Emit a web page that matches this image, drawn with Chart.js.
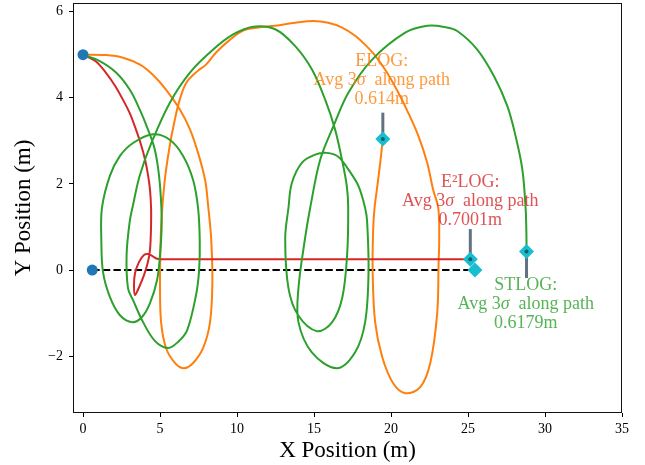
<!DOCTYPE html>
<html>
<head>
<meta charset="utf-8">
<script src="https://cdn.jsdelivr.net/npm/chart.js@4.4.0/dist/chart.umd.min.js"></script>
<style>
    html, body { margin: 0; padding: 0; background: #fff; }
</style>
</head>
<body>
<canvas id="pathChart" width="645" height="465"></canvas>
<script>
document.addEventListener("DOMContentLoaded", function () {

    const SERIF = '"Liberation Serif", "Times New Roman", serif';

    // axis ticks
    const xTicks = [0, 5, 10, 15, 20, 25, 30, 35];
    const yTicks = [-2, 0, 2, 4, 6];

    // start points and ground truth
    const startX = [0, 0.6];
    const startY = [5, 0];
    const gtX = [0.6, 25.45];
    const gtY = [0, 0];

    // ELOG path (orange)
    const elogX = [0, 1.49, 2.60, 3.70, 4.55, 5.39, 6.30, 6.95, 7.47, 7.93, 8.12, 8.32, 8.40, 8.25, 7.80,
        7.15, 6.56, 5.98, 5.39, 5.07, 5.00, 5.02, 5.09, 5.31, 5.63, 5.96, 6.28, 6.71, 7.47, 7.99,
        8.64, 9.55, 10.40, 11.37, 12.48, 13.78, 14.94, 15.92, 16.83, 17.67, 18.32, 18.97, 19.75, 20.47, 21.12,
        21.77, 22.35, 22.74, 23.07, 23.13, 23.09, 23.00, 22.55, 21.90, 20.92, 20.14, 19.43, 18.97, 18.81, 18.84,
        18.93, 19.08, 19.30, 19.47];
    const elogY = [5.00, 4.99, 4.93, 4.77, 4.53, 4.19, 3.72, 3.26, 2.72, 2.09, 1.51, 0.74, -0.28, -1.21, -1.81,
        -2.16, -2.28, -2.16, -1.81, -1.21, -0.42, 0.35, 1.12, 2.09, 2.88, 3.49, 3.95, 4.35, 4.63, 4.77,
        5.05, 5.35, 5.56, 5.63, 5.67, 5.74, 5.78, 5.74, 5.63, 5.44, 5.23, 4.98, 4.58, 4.12, 3.65,
        3.12, 2.49, 1.86, 1.44, 0.70, 0.16, -1.00, -2.16, -2.72, -2.86, -2.63, -2.02, -1.21, -0.05, 0.93,
        1.44, 1.86, 2.49, 3.04];

    // E²LOG path (red)
    const e2logX = [0, 0.84, 1.49, 2.08, 2.60, 3.05, 3.44, 3.77, 4.03, 4.22, 4.35, 4.42, 4.42, 4.39,
        4.35, 4.22, 3.96, 3.64, 3.38, 3.31, 3.38, 3.64, 3.96, 4.22, 4.48, 4.81, 5.13, 25.15];
    const e2logY = [5.00, 4.84, 4.58, 4.28, 3.95, 3.63, 3.26, 2.91, 2.56, 2.21, 1.86, 1.44, 1.05, 0.70,
        0.47, 0.19, -0.12, -0.40, -0.58, -0.35, -0.07, 0.19, 0.35, 0.37, 0.33, 0.26, 0.25, 0.25];

    // STLOG path (green)
    const stlogX = [0, 1.09, 2.16, 3.03, 3.68, 4.22, 4.66, 4.94, 5.09, 5.10, 5.00, 4.81, 4.35, 3.83, 3.20,
        2.40, 1.75, 1.30, 1.19, 1.23, 1.75, 2.40, 3.25, 4.55, 5.65, 6.50, 7.15, 7.47, 7.58, 7.54,
        7.34, 6.76, 6.17, 5.52, 4.68, 3.90, 3.25, 2.92, 2.83, 3.03, 3.25, 3.68, 4.44, 5.63, 6.93,
        8.45, 9.75, 11.05, 12.48, 13.78, 14.86, 15.72, 16.37, 16.81, 17.13, 17.22, 17.15, 16.83, 16.18, 15.20,
        13.97, 13.34, 13.13, 13.34, 13.56, 14.21, 15.07, 15.84, 16.57, 17.24, 17.89, 18.32, 18.45, 18.54, 18.32,
        17.67, 16.48, 14.86, 13.99, 13.99, 14.42, 14.75, 15.40, 16.26, 17.24, 18.76, 20.92, 22.35, 23.52, 24.30,
        25.60, 26.69, 27.55, 28.09, 28.53, 28.74, 28.79, 28.80];
    const stlogY = [5.00, 4.85, 4.58, 4.19, 3.73, 3.26, 2.80, 2.18, 1.44, 0.93, 0.35, -0.23, -0.77, -1.09, -1.21,
        -1.05, -0.63, -0.05, 0.70, 1.44, 2.19, 2.65, 2.95, 3.15, 3.02, 2.65, 2.09, 1.44, 0.70, 0.00,
        -0.58, -1.40, -1.67, -1.81, -1.65, -1.21, -0.70, -0.42, 0.35, 1.12, 1.51, 2.19, 2.95, 3.88, 4.58,
        5.12, 5.47, 5.65, 5.59, 5.20, 4.66, 3.96, 3.26, 2.57, 1.95, 1.44, 0.35, -0.65, -1.21, -1.42,
        -1.05, -0.42, 0.74, 1.44, 2.02, 2.49, 2.68, 2.72, 2.63, 2.33, 1.95, 1.44, 1.12, -0.05, -1.21,
        -1.91, -2.28, -1.91, -1.21, -0.42, 0.74, 1.44, 2.56, 3.34, 4.12, 4.88, 5.51, 5.67, 5.64, 5.55,
        5.12, 4.50, 3.81, 3.11, 2.33, 1.44, 0.90, 0.43];

    // end-of-path 3σ values
    const methodNames = ["ELOG", "E²LOG", "STLOG"];
    const sigmaValues = [0.614, 0.7001, 0.6179];
    const barDirection = [1, 1, -1];

    const colors = {
        elog: "#ff7f0e",
        e2log: "#d62728",
        stlog: "#2ca02c",
        start: "#1f77b4",
        end: "#17becf",
        bar: "#627282"
    };

    function toPoints(xs, ys) {
        return xs.map((x, i) => ({ x: x, y: ys[i] }));
    }

    const ends = [
        { x: elogX[elogX.length - 1], y: elogY[elogY.length - 1] },
        { x: e2logX[e2logX.length - 1], y: e2logY[e2logY.length - 1] },
        { x: stlogX[stlogX.length - 1], y: stlogY[stlogY.length - 1] }
    ];

    const barSets = ends.map((p, i) => ({
        data: [p, { x: p.x, y: p.y + barDirection[i] * sigmaValues[i] }],
        showLine: true,
        borderColor: colors.bar,
        borderWidth: 3,
        pointRadius: 0
    }));

    // text annotations, anchored in data coordinates (middle line)
    const labelColors = ["rgba(255,127,14,0.8)", "rgba(214,39,40,0.8)", "rgba(44,160,44,0.8)"];
    const labelAnchors = [{ x: 19.4, y: 4.40 }, { x: 25.15, y: 1.59 }, { x: 28.75, y: -0.80 }];

    function drawParts(ctx, parts, cx, cy, size) {
        let total = 0;
        parts.forEach(p => {
            ctx.font = (p.italic ? "italic " : "") + size + "px " + SERIF;
            p.w = ctx.measureText(p.t).width;
            total += p.w;
        });
        let x = cx - total / 2;
        parts.forEach(p => {
            ctx.font = (p.italic ? "italic " : "") + size + "px " + SERIF;
            ctx.fillText(p.t, x, cy);
            x += p.w;
        });
    }

    const overlayPlugin = {
        id: "overlay",
        afterDatasetsDraw(chart) {
            const { ctx, chartArea: a, scales } = chart;
            ctx.save();
            const size = 18, lh = 19;
            ctx.textBaseline = "middle";
            ctx.textAlign = "left";
            methodNames.forEach((name, i) => {
                const cx = scales.x.getPixelForValue(labelAnchors[i].x);
                const cy = scales.y.getPixelForValue(labelAnchors[i].y);
                ctx.fillStyle = labelColors[i];
                drawParts(ctx, [{ t: name + ":" }], cx, cy - lh, size);
                drawParts(ctx, [{ t: "Avg 3" }, { t: "σ", italic: true }, { t: "  along path" }], cx, cy, size);
                drawParts(ctx, [{ t: sigmaValues[i] + "m" }], cx, cy + lh, size);
            });
            ctx.strokeStyle = "#111";
            ctx.lineWidth = 1;
            ctx.strokeRect(a.left + 0.5, a.top + 0.5, a.right - a.left - 1, a.bottom - a.top - 1);
            ctx.restore();
        }
    };

    const tickLabel = v => (v < 0 ? "\u2212" + Math.abs(v) : String(v));

    const ctx = document.getElementById("pathChart").getContext("2d");

    new Chart(ctx, {
        type: "scatter",
        data: {
            datasets: [
                {
                    data: ends,
                    pointStyle: "circle",
                    pointRadius: 2,
                    pointBackgroundColor: "#1d5a68",
                    pointBorderWidth: 0
                },
                {
                    data: ends,
                    pointStyle: "rectRot",
                    pointRadius: 7.5,
                    pointBackgroundColor: colors.end,
                    pointBorderWidth: 0
                },
                {
                    data: [{ x: gtX[gtX.length - 1], y: gtY[gtY.length - 1] }],
                    pointStyle: "rectRot",
                    pointRadius: 7.5,
                    pointBackgroundColor: colors.end,
                    pointBorderWidth: 0
                },
                ...barSets,
                {
                    data: toPoints(startX, startY),
                    pointRadius: 5.5,
                    pointBackgroundColor: colors.start,
                    pointBorderWidth: 0
                },
                {
                    data: toPoints(stlogX, stlogY),
                    showLine: true,
                    borderColor: colors.stlog,
                    borderWidth: 2,
                    tension: 0.35,
                    pointRadius: 0
                },
                {
                    data: toPoints(e2logX, e2logY),
                    showLine: true,
                    borderColor: colors.e2log,
                    borderWidth: 2,
                    tension: 0.3,
                    pointRadius: 0
                },
                {
                    data: toPoints(elogX, elogY),
                    showLine: true,
                    borderColor: colors.elog,
                    borderWidth: 2,
                    tension: 0.35,
                    pointRadius: 0
                },
                {
                    data: toPoints(gtX, gtY),
                    showLine: true,
                    borderColor: "#000",
                    borderWidth: 2,
                    borderDash: [7.4, 3.2],
                    pointRadius: 0
                }
            ]
        },
        options: {
            responsive: false,
            animation: false,
            events: [],
            layout: { autoPadding: false, padding: { top: 3, right: 23, left: 0, bottom: 0 } },
            plugins: {
                legend: { display: false },
                tooltip: { enabled: false }
            },
            scales: {
                x: {
                    type: "linear",
                    min: -0.65,
                    max: 35,
                    afterBuildTicks: s => { s.ticks = xTicks.map(v => ({ value: v })); },
                    afterFit: s => { s.height = 52; s.paddingLeft = 0; s.paddingRight = 0; },
                    ticks: {
                        font: { family: SERIF, size: 14 },
                        color: "#000",
                        padding: 4,
                        maxRotation: 0,
                        callback: tickLabel
                    },
                    grid: { drawOnChartArea: false, drawTicks: true, tickLength: 4, tickColor: "#000" },
                    border: { display: false },
                    title: {
                        display: true,
                        text: "X Position (m)",
                        font: { family: SERIF, size: 23 },
                        color: "#000",
                        padding: { top: 0, bottom: 0 }
                    }
                },
                y: {
                    type: "linear",
                    min: -3.32,
                    max: 6.2,
                    afterBuildTicks: s => { s.ticks = yTicks.map(v => ({ value: v })); },
                    afterFit: s => { s.width = 73; s.paddingTop = 0; s.paddingBottom = 0; },
                    ticks: {
                        font: { family: SERIF, size: 14 },
                        color: "#000",
                        padding: 6,
                        callback: tickLabel
                    },
                    grid: { drawOnChartArea: false, drawTicks: true, tickLength: 4, tickColor: "#000" },
                    border: { display: false },
                    title: {
                        display: true,
                        text: "Y Position (m)",
                        font: { family: SERIF, size: 23 },
                        color: "#000",
                        padding: { top: 10, bottom: 0 }
                    }
                }
            }
        },
        plugins: [overlayPlugin]
    });
});
</script>
</body>
</html>
